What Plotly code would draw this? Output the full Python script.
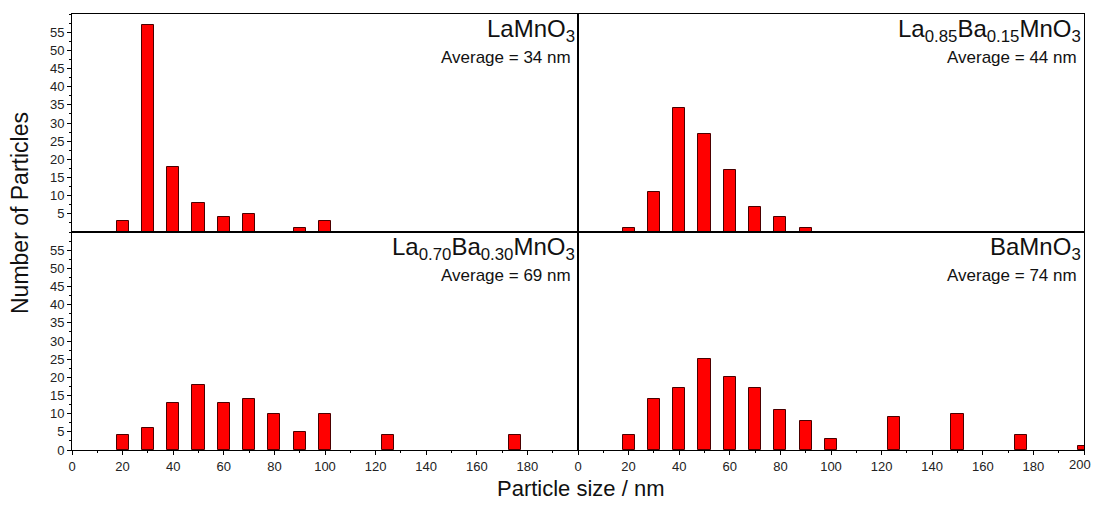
import plotly.graph_objects as go

# Data
sizes_a = [20, 30, 40, 50, 60, 70, 90, 100]
counts_a = [3, 57, 18, 8, 4, 5, 1, 3]
sizes_b = [20, 30, 40, 50, 60, 70, 80, 90]
counts_b = [1, 11, 34, 27, 17, 7, 4, 1]
sizes_c = [20, 30, 40, 50, 60, 70, 80, 90, 100, 125, 175]
counts_c = [4, 6, 13, 18, 13, 14, 10, 5, 10, 4, 4]
sizes_d = [20, 30, 40, 50, 60, 70, 80, 90, 100, 125, 150, 175, 200]
counts_d = [4, 14, 17, 25, 20, 17, 11, 8, 3, 9, 10, 4, 1]

names = ["LaMnO<sub>3</sub>",
         "La<sub>0.85</sub>Ba<sub>0.15</sub>MnO<sub>3</sub>",
         "La<sub>0.70</sub>Ba<sub>0.30</sub>MnO<sub>3</sub>",
         "BaMnO<sub>3</sub>"]
averages = ["Average = 34 nm", "Average = 44 nm", "Average = 69 nm", "Average = 74 nm"]
x_ticks_left = list(range(0, 181, 20))
x_ticks_right = list(range(0, 201, 20))
y_ticks_top = list(range(5, 56, 5))
y_ticks_bottom = list(range(0, 56, 5))

OFF = 8  # default page margin around the figure
W, H = 1101 - 2 * OFF, 507 - 2 * OFF
FONT = "Liberation Sans, Arial, sans-serif"

def px(x):
    return (x - OFF) / W

def py(y):
    return 1 - (y - OFF) / H

xl = [px(72), px(578)]
xr = [px(578), px(1084)]
yt = [py(232), py(14)]
yb = [py(450), py(232)]

fig = go.Figure()
panels = [
    (sizes_a, counts_a, "x", "y"),
    (sizes_b, counts_b, "x2", "y2"),
    (sizes_c, counts_c, "x3", "y3"),
    (sizes_d, counts_d, "x4", "y4"),
]
for s, c, xa, ya in panels:
    fig.add_trace(go.Bar(x=s, y=c, xaxis=xa, yaxis=ya, width=4.8,
                         marker=dict(color="#FF0000", line=dict(color="#4a0000", width=1)),
                         showlegend=False))

common = dict(showline=True, linecolor="black", linewidth=1, mirror=True,
              showgrid=False, zeroline=False, tickcolor="black", automargin=False,
              tickfont=dict(family=FONT, size=13, color="#222"))

def xaxis(domain, anchor, labels, show):
    d = dict(common, domain=domain, anchor=anchor, range=[0, 200])
    if show:
        d.update(tickmode="array", tickvals=labels, ticks="outside", ticklen=4,
                 minor=dict(dtick=10, tick0=0, ticks="outside", ticklen=2, tickcolor="black"))
    else:
        d.update(showticklabels=False, ticks="")
    return d

def yaxis(domain, anchor, labels, show):
    d = dict(common, domain=domain, anchor=anchor, range=[0, 60])
    if show:
        d.update(tickmode="array", tickvals=labels, ticks="outside", ticklen=4,
                 minor=dict(dtick=2.5, tick0=0, ticks="outside", ticklen=2, tickcolor="black"))
    else:
        d.update(showticklabels=False, ticks="")
    return d

fig.update_layout(
    xaxis=xaxis(xl, "y", x_ticks_left, False),
    yaxis=yaxis(yt, "x", y_ticks_top, True),
    xaxis2=xaxis(xr, "y2", x_ticks_right, False),
    yaxis2=yaxis(yt, "x2", y_ticks_top, False),
    xaxis3=xaxis(xl, "y3", x_ticks_left, True),
    yaxis3=yaxis(yb, "x3", y_ticks_bottom, True),
    xaxis4=xaxis(xr, "y4", x_ticks_right, True),
    yaxis4=yaxis(yb, "x4", y_ticks_bottom, False),
)

refs = [("x domain", "y domain"), ("x2 domain", "y2 domain"),
        ("x3 domain", "y3 domain"), ("x4 domain", "y4 domain")]
anns = []
for (xr_, yr_), nm, av in zip(refs, names, averages):
    anns.append(dict(text=nm, xref=xr_, yref=yr_, x=0.998, y=1.005, xanchor="right",
                     yanchor="top", showarrow=False,
                     font=dict(family=FONT, size=24, color="#111")))
    anns.append(dict(text=av, xref=xr_, yref=yr_, x=0.99, y=0.855, xanchor="right",
                     yanchor="top", showarrow=False,
                     font=dict(family=FONT, size=17, color="#111")))
# last tick label of the right axis sits at the figure edge; draw it right-aligned
anns.append(dict(text=str(x_ticks_right[-1]), xref="paper", yref="paper", x=1.0, y=py(464),
                 xanchor="right", yanchor="middle", showarrow=False,
                 font=dict(family=FONT, size=13, color="#222")))
anns.append(dict(text="Number of Particles", xref="paper", yref="paper", x=px(20), y=py(213),
                 textangle=-90, showarrow=False, xanchor="center", yanchor="middle",
                 font=dict(family=FONT, size=23, color="#111")))
anns.append(dict(text="Particle size / nm", xref="paper", yref="paper", x=px(581), y=py(502),
                 showarrow=False, xanchor="center", yanchor="bottom", borderpad=0,
                 font=dict(family=FONT, size=22, color="#111")))

fig.update_layout(annotations=anns, width=W, height=H,
                  margin=dict(l=0, r=0, t=0, b=0),
                  paper_bgcolor="white", plot_bgcolor="white", bargap=0)

fig.write_html("out.html")
